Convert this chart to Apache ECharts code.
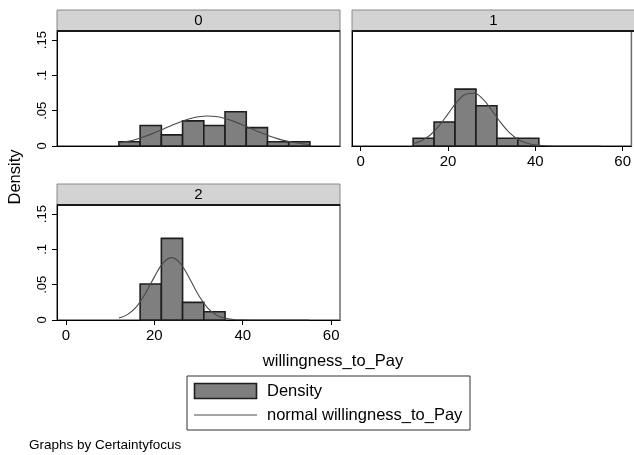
<!DOCTYPE html>
<html>
<head>
<meta charset="utf-8">
<script src="https://cdn.jsdelivr.net/npm/echarts@6/dist/echarts.min.js"></script>
<style>html,body{margin:0;padding:0;background:#fff}#c{width:634px;height:455px}</style>
</head>
<body>
<div id="c"></div>
<script>
// ---- data ----
const panelNames = ['0', '1', '2'];
const binEdges = [12, 16.8, 21.6, 26.4, 31.2, 36, 40.8, 45.6, 50.4, 55.2];
const density0 = [0.006, 0.029, 0.0157, 0.0356, 0.029, 0.0486, 0.026, 0.006, 0.006];
const density1 = [0.011, 0.034, 0.0806, 0.057, 0.011, 0.011, 0, 0, 0];
const density2 = [0, 0.051, 0.1157, 0.025, 0.0116, 0, 0, 0, 0];
const curveX = [12,14,16,18,20,22,24,26,28,30,32,34,36,38,40,42,44,46,48,50,52,54,55];
const normal0 = [0.0043,0.0066,0.0097,0.0137,0.0185,0.0238,0.0293,0.0345,0.0387,0.0415,0.0426,0.0417,0.0391,0.0349,0.0299,0.0244,0.0190,0.0142,0.0101,0.0069,0.0045,0.0028,0.0022];
const normal1 = [0.0032,0.0077,0.0160,0.0290,0.0456,0.0621,0.0732,0.0748,0.0663,0.0508,0.0338,0.0194,0.0097,0.0042,0.0016,0.0005,0.0001,0,0,0,0,0,0];
const normal2 = [0.0027,0.0080,0.0191,0.0376,0.0608,0.0809,0.0884,0.0793,0.0585,0.0354,0.0176,0.0072,0.0024,0.0007,0.0002,0,0,0,0,0,0,0,0];
const xTicks = [0, 20, 40, 60];
const yTicks = [0, 0.05, 0.1, 0.15];
const yTickLabels = ['0', '.05', '.1', '.15'];
const xTitle = 'willingness_to_Pay';
const yTitle = 'Density';
const legendNames = ['Density', 'normal willingness_to_Pay'];
const note = 'Graphs by Certaintyfocus';

const densities = [density0, density1, density2];
const normals = [normal0, normal1, normal2];

const FONT = '"Liberation Sans", Arial, Helvetica, sans-serif';
const BAR_FILL = '#7f7f7f', BAR_STROKE = '#1e1e1e', CURVE = '#4a4a4a';

const grids = [
  {left: 57, top: 31, width: 283, height: 115},
  {left: 352, top: 31, width: 283, height: 115},
  {left: 57, top: 205, width: 283, height: 115}
];
const showXLabels = [false, true, true];
const showYLabels = [true, false, true];

const chart = echarts.init(document.getElementById('c'), null, {renderer: 'canvas'});

const xAxes = grids.map((g, i) => ({
  type: 'value', gridIndex: i, min: -2, max: 62,
  axisLine: {show: true, onZero: false, lineStyle: {color: '#000', width: 1}},
  axisTick: {show: showXLabels[i], length: 5, customValues: xTicks, lineStyle: {color: '#000'}},
  axisLabel: {show: showXLabels[i], customValues: xTicks, fontSize: 15, color: '#000', fontFamily: FONT, margin: 8},
  splitLine: {show: false}
}));
const yAxes = grids.map((g, i) => ({
  type: 'value', gridIndex: i, min: 0, max: 0.163,
  axisLine: {show: true, onZero: false, lineStyle: {color: '#000', width: 1}},
  axisTick: {show: showYLabels[i], length: 5, customValues: yTicks, lineStyle: {color: '#000'}},
  axisLabel: {show: showYLabels[i], customValues: yTicks, rotate: 90, fontSize: 13, color: '#000', fontFamily: FONT, margin: 8,
    formatter: v => { const k = yTicks.findIndex(t => Math.abs(t - v) < 1e-9); return k >= 0 ? yTickLabels[k] : ''; }},
  splitLine: {show: false}
}));

const series = [];
densities.forEach((d, i) => {
  const data = [];
  d.forEach((h, k) => { if (h > 0) data.push([binEdges[k], binEdges[k + 1], h]); });
  series.push({
    type: 'custom', name: legendNames[0], xAxisIndex: i, yAxisIndex: i, z: 2,
    encode: {x: [0, 1], y: 2},
    renderItem: (params, api) => {
      const p0 = api.coord([api.value(0), api.value(2)]);
      const p1 = api.coord([api.value(1), 0]);
      return {type: 'rect', shape: {x: p0[0], y: p0[1], width: p1[0] - p0[0], height: p1[1] - p0[1]},
        style: {fill: BAR_FILL, stroke: BAR_STROKE, lineWidth: 1.6}};
    },
    data: data
  });
  series.push({
    type: 'line', name: legendNames[1], xAxisIndex: i, yAxisIndex: i, z: 3,
    showSymbol: false, smooth: 0.4,
    lineStyle: {color: CURVE, width: 1.1},
    data: curveX.map((x, k) => [x, normals[i][k]])
  });
});

const graphics = [];
// strips
grids.forEach((g, i) => {
  graphics.push({type: 'rect', z: 10, shape: {x: g.left, y: g.top - 21, width: g.width, height: 21},
    style: {fill: '#d3d3d3', stroke: '#8a8a8a', lineWidth: 1}});
  graphics.push({type: 'line', z: 11, shape: {x1: g.left, y1: g.top, x2: g.left + g.width, y2: g.top},
    style: {stroke: '#1a1a1a', lineWidth: 2}});
  graphics.push({type: 'text', z: 12, x: g.left + g.width / 2, y: g.top - 10.5,
    style: {text: panelNames[i], fontSize: 15, fontFamily: FONT, fill: '#000', align: 'center', verticalAlign: 'middle'}});
});
// axis titles
graphics.push({type: 'text', x: 15, y: 177, rotation: Math.PI / 2,
  style: {text: yTitle, fontSize: 16.5, fontFamily: FONT, fill: '#000', align: 'center', verticalAlign: 'middle'}});
graphics.push({type: 'text', x: 333, y: 361,
  style: {text: xTitle, fontSize: 16.5, fontFamily: FONT, fill: '#000', align: 'center', verticalAlign: 'middle'}});
// legend
graphics.push({type: 'rect', shape: {x: 187, y: 376, width: 283, height: 54},
  style: {fill: '#fff', stroke: '#333', lineWidth: 1}});
graphics.push({type: 'rect', shape: {x: 194.5, y: 383.5, width: 62, height: 15},
  style: {fill: BAR_FILL, stroke: BAR_STROKE, lineWidth: 1.6}});
graphics.push({type: 'text', x: 267, y: 391,
  style: {text: legendNames[0], fontSize: 16.5, fontFamily: FONT, fill: '#000', align: 'left', verticalAlign: 'middle'}});
graphics.push({type: 'line', shape: {x1: 194, y1: 415, x2: 257, y2: 415},
  style: {stroke: CURVE, lineWidth: 1.1}});
graphics.push({type: 'text', x: 267, y: 415,
  style: {text: legendNames[1], fontSize: 16.5, fontFamily: FONT, fill: '#000', align: 'left', verticalAlign: 'middle'}});
// note
graphics.push({type: 'text', x: 29, y: 445,
  style: {text: note, fontSize: 13.5, fontFamily: FONT, fill: '#000', align: 'left', verticalAlign: 'middle'}});

chart.setOption({
  animation: false,
  backgroundColor: '#fff',
  grid: grids.map(g => Object.assign({show: true, borderColor: '#6e6e6e', borderWidth: 1.5, backgroundColor: 'transparent'}, g)),
  xAxis: xAxes,
  yAxis: yAxes,
  series: series,
  graphic: graphics
});
</script>
</body>
</html>
